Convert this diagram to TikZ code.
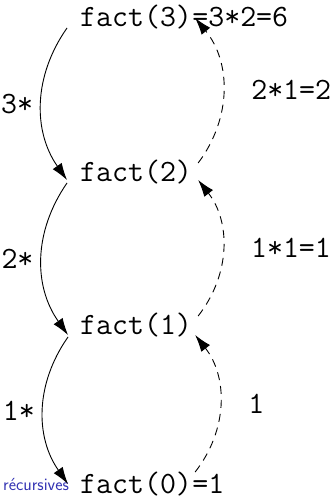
\documentclass[tikz,border=0pt]{standalone}
\usetikzlibrary{arrows.meta,positioning}
\definecolor{struct}{RGB}{51,51,179}
\tikzset{
  call/.style={inner sep=0pt,anchor=base west,font=\fontsize{31}{34}\selectfont\ttfamily},
  lbl/.style={inner sep=0pt,font=\fontsize{31}{34}\selectfont\ttfamily},
  rec/.style={-{Latex[length=17pt,width=11pt]},line width=0.9pt},
  ret/.style={rec,dash pattern=on 8pt off 6pt},
}
\begin{document}
\begin{tikzpicture}[x=1pt,y=1pt]
  \useasboundingbox (0,0) rectangle (334,501);
  % the calls, top to bottom
  \node[call] (f3) at (80,474) {fact(3)};
  \node[call] (v3) at (f3.base east) {=3*2=6};
  \node[call] (f2) at (80,319) {fact(2)};
  \node[call] (f1) at (80,166) {fact(1)};
  \node[call] (f0) at (80,7) {fact(0)};
  \node[call] (v0) at (f0.base east) {=1};
  \node[call,font=\fontsize{17.5}{20}\selectfont\sffamily,text=struct] (hd) at (3,10) {récursives};
  % going down
  \draw[rec] ([xshift=-13pt,yshift=-1pt]f3.base west) to[bend right=35]
    node[lbl,left=8pt] {3*} ([xshift=-13pt,yshift=2pt]f2.base west);
  \draw[rec] ([xshift=-13pt,yshift=-1pt]f2.base west) to[bend right=35]
    node[lbl,left=8pt] {2*} ([xshift=-12pt]f1.base west);
  \draw[rec] ([xshift=-12pt,yshift=-2pt]f1.base west) to[bend right=35]
    node[lbl,left=8pt] {1*} ([xshift=-12pt,yshift=10pt]f0.base west);
  % coming back up
  \draw[ret] ([xshift=3pt,yshift=22pt]f0.base east) to[bend right=38]
    node[lbl,right=28pt] {1} ([xshift=3pt]f1.base east);
  \draw[ret] ([xshift=6pt,yshift=19pt]f1.base east) to[bend right=38]
    node[lbl,right=28pt] {1*1=1} ([xshift=6pt,yshift=2pt]f2.base east);
  \draw[ret] ([xshift=6pt,yshift=19pt]f2.base east) to[bend right=38]
    node[lbl,right=28pt] {2*1=2} ([xshift=3pt,yshift=9pt]f3.base east);
\end{tikzpicture}
\end{document}
